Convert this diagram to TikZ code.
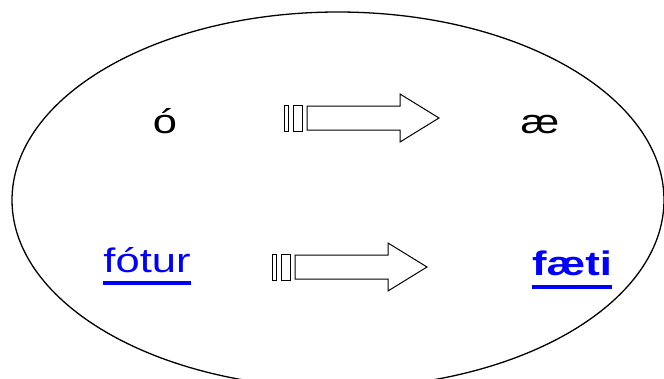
\documentclass[tikz,border=0pt]{standalone}
\usepackage{fontspec}
\setmainfont{Liberation Sans}
\definecolor{linkblue}{RGB}{0,0,255}
\tikzset{
  lbl/.style={inner sep=0pt, anchor=base, font=\fontsize{34}{40}\selectfont},
  link/.style={lbl, text=linkblue},
  outline/.style={draw=black, line width=1.3pt},
  pics/blockarrow/.style={code={
    \draw[line width=1pt] (0,-13) rectangle (4,13);
    \draw[line width=1pt] (9,-13) rectangle (18,13);
    \draw[line width=1pt] (23,-12) -- (116,-12) -- (116,-24) -- (155,0) -- (116,24) -- (116,12) -- (23,12) -- cycle;
  }}
}
\begin{document}
\begin{tikzpicture}[x=1pt,y=-1pt]
\useasboundingbox (0,0) rectangle (664,378);
% ellipse with small gap at top
\draw[outline] (338,200) ++(92.6:326 and 188) arc[start angle=92.6, end angle=449.5, x radius=326, y radius=188];
% labels
\node[lbl] (o) at (165,133) {\scalebox{1.28}[1]{ó}};
\node[lbl] (ae) at (540,133) {\scalebox{1.28}[1]{æ}};
\node[link] (fotur) at (147,272) {\scalebox{1.28}[1]{fótur}};
\node[link] (faeti) at (572,275) {\scalebox{1.28}[1]{\bfseries fæti}};
% underlines
\fill[linkblue] ([yshift=-9pt]fotur.base west) rectangle ([yshift=-12.5pt]fotur.base east);
\fill[linkblue] ([yshift=-10pt]faeti.base west) rectangle ([yshift=-14pt]faeti.base east);
% block arrows
\pic at (284,118) {blockarrow};
\pic at (272,267) {blockarrow};
\end{tikzpicture}
\end{document}
